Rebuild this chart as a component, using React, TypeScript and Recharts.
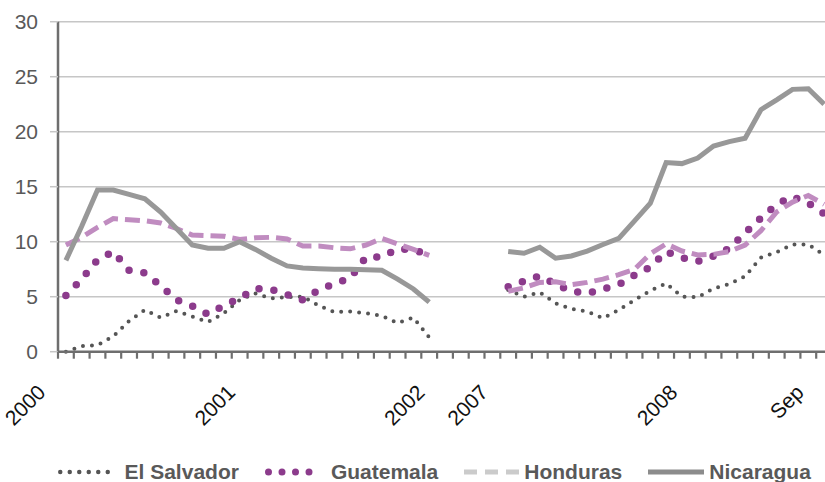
import React from "react";
import { LineChart, Line, XAxis, YAxis, CartesianGrid } from "recharts";

// monthly periods, with an empty stretch between the two blocks of data
const periods = [
  "2000-01", "2000-02", "2000-03", "2000-04", "2000-05", "2000-06",
  "2000-07", "2000-08", "2000-09", "2000-10", "2000-11", "2000-12",
  "2001-01", "2001-02", "2001-03", "2001-04", "2001-05", "2001-06",
  "2001-07", "2001-08", "2001-09", "2001-10", "2001-11", "2001-12",
  "2002-01", "2002-02", "2002-03", "2002-04",
  "2007-01", "2007-02", "2007-03", "2007-04", "2007-05", "2007-06",
  "2007-07", "2007-08", "2007-09", "2007-10", "2007-11", "2007-12",
  "2008-01", "2008-02", "2008-03", "2008-04", "2008-05", "2008-06",
  "2008-07", "2008-08", "2008-09",
];

const tickLabels: Record<string, string> = {
  "2000-01": "2000",
  "2001-01": "2001",
  "2002-01": "2002",
  "2007-01": "2007",
  "2008-01": "2008",
  "2008-09": "Sep",
};

const yTicks = [0, 5, 10, 15, 20, 25, 30];

const elSalvador = [
  0.0, 0.5, 0.6, 1.4, 2.8, 3.8, 3.1, 3.7, 3.2, 2.7, 3.5, 4.7,
  5.3, 4.85, 4.95, 5.0, 4.2, 3.6, 3.65, 3.5, 3.25, 2.6, 3.1, 1.3,
  null, null, null, null,
  5.6, 5.0, 5.4, 4.4, 3.9, 3.65, 3.05, 3.8, 4.7, 5.55, 6.2, 5.0,
  4.95, 5.75, 6.15, 6.85, 8.55, 9.05, 9.75, 9.75, 8.8,
];

const guatemala = [
  5.1, 6.6, 8.35, 9.1, 7.4, 7.15, 6.0, 4.7, 4.15, 3.4, 4.2, 4.85,
  5.75, 5.65, 5.2, 4.7, 5.6, 6.2, 6.7, 8.6, 8.6, 9.35, 9.25, 8.8,
  null, null, null, null,
  5.9, 6.4, 6.9, 6.15, 5.5, 5.3, 5.7, 6.1, 6.95, 7.7, 9.1, 8.55,
  8.2, 8.7, 9.4, 10.8, 12.15, 13.4, 14.1, 13.5, 12.55,
];

const honduras = [
  9.7, 10.4, 11.3, 12.1, 12.0, 11.9, 11.7, 11.2, 10.6, 10.55, 10.5, 10.2,
  10.35, 10.4, 10.25, 9.6, 9.6, 9.45, 9.35, 9.7, 10.3, 9.8, 9.3, 8.75,
  null, null, null, null,
  5.5, 5.8, 6.3, 6.35, 6.1, 6.3, 6.6, 7.0, 7.5, 8.9, 9.8, 9.15,
  8.8, 8.85, 9.1, 9.7, 11.0, 12.7, 13.6, 14.2, 13.4,
];

const nicaragua = [
  8.3, 11.4, 14.7, 14.7, 14.3, 13.9, 12.7, 11.2, 9.7, 9.4, 9.4, 10.0,
  9.3, 8.5, 7.8, 7.6, 7.55, 7.5, 7.5, 7.45, 7.4, 6.6, 5.7, 4.5,
  null, null, null, null,
  9.1, 8.95, 9.5, 8.5, 8.7, 9.15, 9.75, 10.3, 11.9, 13.5, 17.2, 17.1,
  17.6, 18.7, 19.1, 19.4, 22.0, 22.9, 23.85, 23.9, 22.5,
];

const data = periods.map((p, i) => ({
  period: p,
  elSalvador: elSalvador[i],
  guatemala: guatemala[i],
  honduras: honduras[i],
  nicaragua: nicaragua[i],
}));

const FONT = "'Liberation Sans', Arial, sans-serif";
const CHART_W = 840;
const CHART_H = 482;
const PLOT_LEFT = 58;
const PLOT_TOP = 21.7;
const PLOT_W = 774;
const PLOT_H = 330;
const X_AXIS_H = 30;
const HALF = PLOT_W / periods.length / 2;
const AXIS_Y = PLOT_TOP + PLOT_H;

const series = [
  { key: "elSalvador", name: "El Salvador", color: "#555555", width: 4, dash: "0 9", cap: "round", legendColor: "#555555", legendWidth: 4.5, legendDash: "0 9.5", legendLen: 57 },
  { key: "guatemala", name: "Guatemala", color: "#8c3b8c", width: 7.5, dash: "0 15", cap: "round", legendColor: "#8c3b8c", legendWidth: 7, legendDash: "0 13.5", legendLen: 54 },
  { key: "honduras", name: "Honduras", color: "#c08cc0", width: 5, dash: "15 7", cap: "butt", legendColor: "#cbcbcb", legendWidth: 5, legendDash: "13 8", legendLen: 55 },
  { key: "nicaragua", name: "Nicaragua", color: "#989898", width: 5, dash: undefined, cap: "butt", legendColor: "#8c8c8c", legendWidth: 5, legendDash: undefined, legendLen: 56 },
];

// tick marks sit between categories, labels are rotated under the month
function XTick(props: any) {
  const { x, payload } = props;
  const label = tickLabels[payload.value];
  const tx = x - 19;
  const ty = AXIS_Y + 42;
  return (
    <g>
      <line x1={x - HALF} x2={x - HALF} y1={AXIS_Y} y2={AXIS_Y + 7} stroke="#6e6e6e" strokeWidth={2.2} />
      {label && (
        <text
          x={tx}
          y={ty}
          textAnchor="end"
          transform={`rotate(-45, ${tx}, ${ty})`}
          fontSize={21}
          fontFamily={FONT}
          fill="#111111"
        >
          {label}
        </text>
      )}
    </g>
  );
}

function LegendIcon({ s }: { s: (typeof series)[number] }) {
  const pad = s.cap === "round" ? s.legendWidth / 2 : 0;
  const w = s.legendLen + pad * 2;
  return (
    <svg width={w} height={10} style={{ display: "block" }}>
      <line
        x1={pad}
        x2={pad + s.legendLen}
        y1={5}
        y2={5}
        stroke={s.legendColor}
        strokeWidth={s.legendWidth}
        strokeDasharray={s.legendDash}
        strokeLinecap={s.cap as any}
      />
    </svg>
  );
}

export default function App() {
  return (
    <div
      style={{
        position: "absolute",
        left: 0,
        top: 0,
        width: 825,
        height: 482,
        overflow: "hidden",
        background: "#ffffff",
        fontFamily: FONT,
      }}
    >
      <LineChart
        width={CHART_W}
        height={CHART_H}
        data={data}
        margin={{
          top: PLOT_TOP,
          left: 0,
          right: CHART_W - PLOT_LEFT - PLOT_W,
          bottom: CHART_H - PLOT_TOP - PLOT_H - X_AXIS_H,
        }}
      >
        <CartesianGrid horizontal vertical={false} stroke="#c6c6c6" strokeWidth={1.5} />
        <XAxis
          dataKey="period"
          interval={0}
          height={X_AXIS_H}
          padding={{ left: HALF, right: HALF }}
          tickLine={false}
          tick={<XTick />}
          axisLine={{ stroke: "#6e6e6e", strokeWidth: 2.5 }}
        />
        <YAxis
          width={PLOT_LEFT}
          domain={[0, 30]}
          ticks={yTicks}
          interval={0}
          tickSize={8}
          tickMargin={12}
          tickLine={{ stroke: "#c6c6c6", strokeWidth: 1.5 }}
          axisLine={{ stroke: "#6e6e6e", strokeWidth: 2.5 }}
          tick={{ fontSize: 21, fill: "#595959", fontFamily: FONT }}
        />
        {series.map((s) => (
          <Line
            key={s.key}
            dataKey={s.key}
            name={s.name}
            type="linear"
            stroke={s.color}
            strokeWidth={s.width}
            strokeDasharray={s.dash}
            strokeLinecap={s.cap as any}
            dot={false}
            activeDot={false}
            isAnimationActive={false}
          />
        ))}
      </LineChart>
      <div
        style={{
          position: "absolute",
          left: 58,
          top: 460,
          display: "flex",
          alignItems: "center",
          gap: 26,
        }}
      >
        {series.map((s) => (
          <div key={s.key} style={{ display: "flex", alignItems: "center", gap: 5 }}>
            <LegendIcon s={s} />
            <span style={{ fontSize: 21, fontWeight: "bold", color: "#595959", lineHeight: "24px" }}>
              {s.name}
            </span>
          </div>
        ))}
      </div>
    </div>
  );
}
